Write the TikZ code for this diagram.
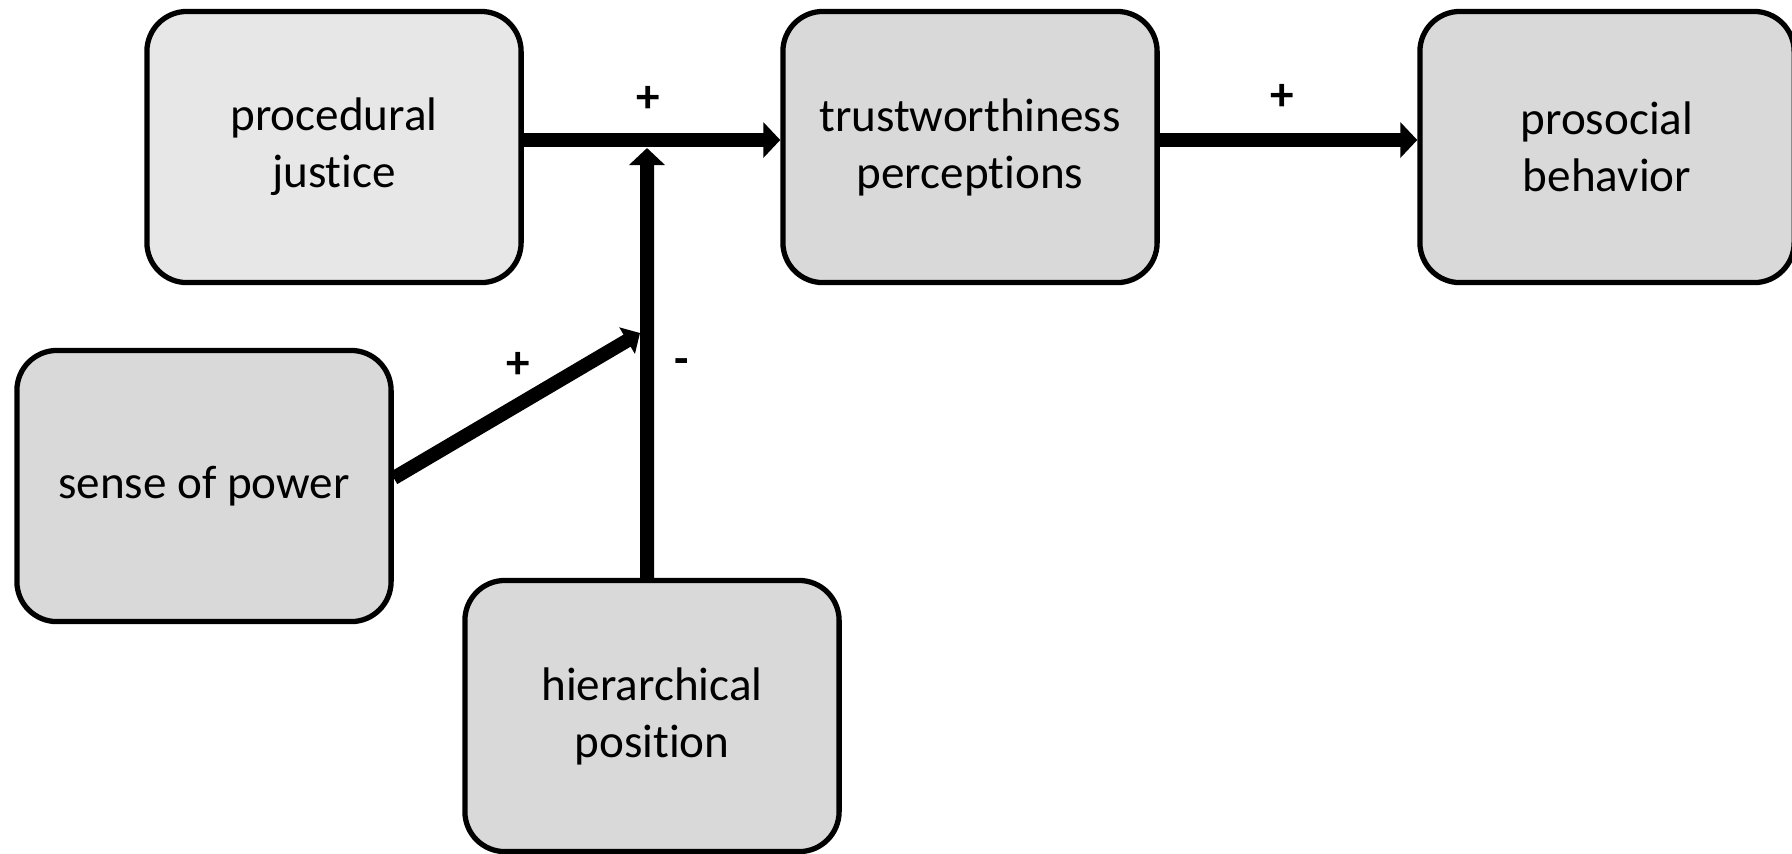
\documentclass[tikz,border=0pt]{standalone}
\usepackage{fontspec}
\setmainfont{Carlito}[Ligatures=NoCommon]
\usepackage{xcolor}
\usetikzlibrary{arrows.meta}
\definecolor{boxgray}{HTML}{D9D9D9}
\definecolor{boxlight}{HTML}{E7E7E7}

\begin{document}
\begin{tikzpicture}[x=0.01cm,y=-0.01cm,
    box/.style={draw,line width=1.5pt,rounded corners=0.4cm,fill=boxgray,
      minimum width=3.74cm,minimum height=2.71cm,align=center,
      font=\fontsize{13.4}{16.2}\selectfont},
    effect/.style={line width=0.14cm,-{Triangle[length=0.17cm,width=0.35cm]}},
    sign/.style={font=\fontsize{13.4}{16}\selectfont\bfseries}]
    \useasboundingbox (0,0) rectangle (1792,853);

    % Boxen
    \node[box,fill=boxlight] (pj) at (334,147) {procedural\\justice};
    \node[box] (tw) at (970,147) {trustworthiness\\perceptions};
    \node[box] (pb) at (1607,147) {prosocial\\behavior};
    \node[box] (sp) at (204,486) {sense of power};
    \node[box] (hp) at (652,716) {hierarchical\\position};

    % Moderation
    \coordinate (mod) at (647,148);
    \coordinate (hit) at (640,333);

    % Pfade
    \draw[effect] ([yshift=0.07cm]pj.east) -- ([yshift=0.07cm]tw.west);
    \draw[effect] ([yshift=0.07cm]tw.east) -- ([yshift=0.07cm]pb.west);
    \draw[effect] ([xshift=-0.05cm]hp.north) -- (mod);
    \draw[line width=0.14cm,-{Triangle[length=0.15cm,width=0.3cm]}] ([yshift=0.08cm]sp.east) -- (hit);

    % Vorzeichen
    \node[sign] (s1) at (648,99) {+};
    \node[sign] (s2) at (1282,97) {+};
    \node[sign] (s3) at (518,365) {+};
    \node[sign] (s4) at (682,367) {-};
\end{tikzpicture}
\end{document}
